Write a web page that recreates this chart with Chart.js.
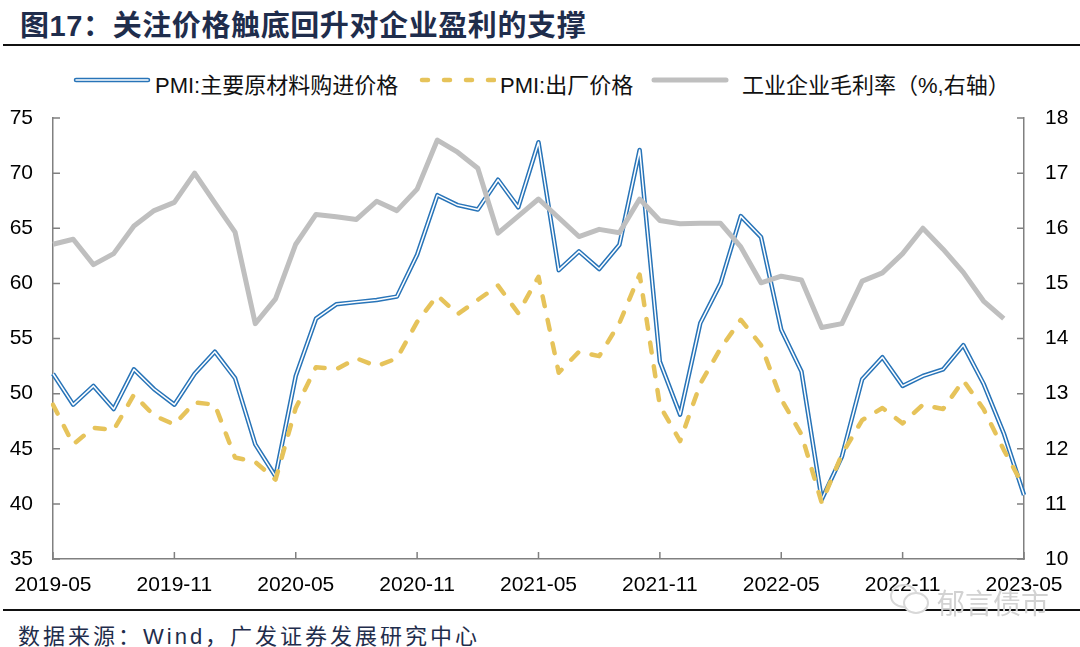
<!DOCTYPE html>
<html>
<head>
<meta charset="utf-8">
<script src="https://cdn.jsdelivr.net/npm/chart.js@4.4.1/dist/chart.umd.min.js"></script>
<style>
  body { margin: 0; background: #fff; }
  #page { position: relative; width: 1080px; height: 647px; overflow: hidden; background: #fff;
          font-family: "Liberation Sans", Arial, "Noto Sans CJK SC", sans-serif; }
  #title { position: absolute; left: 20px; top: 2px; font-size: 29px; letter-spacing: 0.6px; font-weight: bold; color: #1f2d4c; white-space: nowrap; }
  .rule { position: absolute; left: 3px; right: 0; height: 2px; background: #111; }
  .lg-sample { position: absolute; top: 74px; }
  .lg-text { position: absolute; top: 67px; font-size: 22px; color: #111; white-space: nowrap; }
  #chart-box { position: absolute; left: 0; top: 100px; width: 1080px; height: 500px; }
  #source { position: absolute; left: 18px; top: 618px; font-size: 22px; letter-spacing: 3px; color: #1f2d4c; white-space: nowrap; }
  #mark { position: absolute; left: 937px; top: 582px; font-size: 28px; color: #d2d2d2; white-space: nowrap; }
  #mark-icon { position: absolute; left: 888px; top: 582px; }
</style>
</head>
<body>
<div id="page">
  <div id="title">图17：关注价格触底回升对企业盈利的支撑</div>
  <div class="rule" style="top:44px"></div>

  <svg class="lg-sample" style="left:73px" width="78" height="12">
    <line x1="3" y1="6" x2="75" y2="6" stroke="#2874b8" stroke-width="4.5" stroke-linecap="round"/>
    <line x1="3" y1="6" x2="75" y2="6" stroke="#fff" stroke-width="1.5" stroke-linecap="round"/>
  </svg>
  <div class="lg-text" style="left:155px">PMI:主要原材料购进价格</div>
  <svg class="lg-sample" style="left:418px" width="78" height="12">
    <line x1="4" y1="6" x2="76" y2="6" stroke="#e6c35a" stroke-width="4.5" stroke-linecap="round" stroke-dasharray="6 16"/>
  </svg>
  <div class="lg-text" style="left:500px">PMI:出厂价格</div>
  <svg class="lg-sample" style="left:651px" width="78" height="12">
    <line x1="3" y1="6" x2="75" y2="6" stroke="#bfbfbf" stroke-width="5" stroke-linecap="round"/>
  </svg>
  <div class="lg-text" style="left:742px">工业企业毛利率（%,右轴）</div>

  <div id="chart-box"><canvas id="chart" width="1080" height="500"></canvas></div>

  <div class="rule" style="top:609px"></div>
  <div id="source">数据来源：Wind，广发证券发展研究中心</div>
  <svg id="mark-icon" width="44" height="36">
    <ellipse cx="16" cy="14" rx="13" ry="11" fill="none" stroke="#d8d8d8" stroke-width="2"/>
    <ellipse cx="28" cy="21" rx="12" ry="10" fill="#fff" stroke="#d8d8d8" stroke-width="2"/>
  </svg>
  <div id="mark">郁言债市</div>
</div>

<script>
// 月份
const months = [
  '2019-05','2019-06','2019-07','2019-08','2019-09','2019-10','2019-11','2019-12',
  '2020-01','2020-02','2020-03','2020-04','2020-05','2020-06','2020-07','2020-08','2020-09','2020-10','2020-11','2020-12',
  '2021-01','2021-02','2021-03','2021-04','2021-05','2021-06','2021-07','2021-08','2021-09','2021-10','2021-11','2021-12',
  '2022-01','2022-02','2022-03','2022-04','2022-05','2022-06','2022-07','2022-08','2022-09','2022-10','2022-11','2022-12',
  '2023-01','2023-02','2023-03','2023-04','2023-05'
];
const xTickLabels = ['2019-05','2019-11','2020-05','2020-11','2021-05','2021-11','2022-05','2022-11','2023-05'];

// PMI:主要原材料购进价格 (左轴)
const purchasePrice = [
  51.8, 49.0, 50.7, 48.6, 52.2, 50.4, 49.0, 51.8,
  53.8, 51.4, 45.4, 42.5, 51.6, 56.8, 58.1, 58.3, 58.5, 58.8, 62.6, 68.0,
  67.1, 66.7, 69.4, 66.9, 72.8, 61.2, 62.9, 61.3, 63.5, 72.1, 52.9, 48.1,
  56.4, 60.0, 66.1, 64.2, 55.8, 52.0, 40.4, 44.3, 51.3, 53.3, 50.7, 51.6,
  52.2, 54.4, 50.9, 46.4, 40.8
];
// PMI:出厂价格 (左轴)
const factoryPrice = [
  49.0, 45.4, 46.9, 46.7, 49.9, 48.0, 47.2, 49.2,
  49.0, 44.2, 43.8, 42.2, 48.7, 52.4, 52.2, 53.2, 52.5, 53.2, 56.5, 58.9,
  57.2, 58.5, 59.8, 57.3, 60.6, 51.9, 53.8, 53.4, 56.4, 60.8, 48.9, 45.7,
  50.9, 54.1, 56.7, 54.4, 49.5, 46.3, 40.1, 44.5, 47.6, 48.7, 47.3, 49.0,
  48.6, 51.2, 48.6, 44.9, 41.5
];
// 工业企业毛利率 % (右轴)
const grossMargin = [
  15.71, 15.80, 15.34, 15.54, 16.04, 16.32, 16.47, 17.00,
  16.46, 15.93, 14.27, 14.72, 15.71, 16.25, 16.21, 16.16, 16.49, 16.32, 16.71, 17.60,
  17.38, 17.09, 15.91, 16.22, 16.53, 16.19, 15.85, 15.98, 15.92, 16.53, 16.14, 16.08,
  16.09, 16.09, 15.66, 15.01, 15.13, 15.06, 14.20, 14.27, 15.04, 15.19, 15.54, 16.00,
  15.62, 15.20, 14.68, 14.36, null
];

Chart.defaults.font.family = '"Liberation Sans", Arial, sans-serif';
Chart.defaults.color = '#000';

// 刻度线朝里画
const innerTicks = {
  id: 'innerTicks',
  beforeDatasetsDraw(chart) {
    const { ctx, chartArea: a, scales } = chart;
    const len = 7;
    ctx.save();
    ctx.strokeStyle = '#808080';
    ctx.lineWidth = 1.5;
    ctx.beginPath();
    xTickLabels.forEach(l => {
      const x = scales.x.getPixelForValue(months.indexOf(l));
      ctx.moveTo(x, a.bottom);
      ctx.lineTo(x, a.bottom - len);
    });
    scales.y.ticks.forEach(t => {
      const y = scales.y.getPixelForValue(t.value);
      ctx.moveTo(a.left, y);
      ctx.lineTo(a.left + len, y);
    });
    scales.y1.ticks.forEach(t => {
      const y = scales.y1.getPixelForValue(t.value);
      ctx.moveTo(a.right, y);
      ctx.lineTo(a.right - len, y);
    });
    ctx.stroke();
    ctx.restore();
  }
};

const axisBorder = { display: true, color: '#808080', width: 1.5 };

new Chart(document.getElementById('chart'), {
  type: 'line',
  data: {
    labels: months,
    datasets: [
      {
        label: '工业企业毛利率（%,右轴）',
        data: grossMargin,
        yAxisID: 'y1',
        borderColor: '#bfbfbf',
        borderWidth: 5,
        borderJoinStyle: 'round',
        pointRadius: 0,
        order: 0
      },
      {
        label: 'PMI:出厂价格',
        data: factoryPrice,
        yAxisID: 'y',
        borderColor: '#e6c35a',
        borderWidth: 4.5,
        borderDash: [10, 14],
        borderCapStyle: 'round',
        borderJoinStyle: 'round',
        pointRadius: 0,
        order: 1
      },
      {
        // 双线效果的白色内线
        label: 'inner',
        data: purchasePrice,
        yAxisID: 'y',
        borderColor: '#ffffff',
        borderWidth: 1.5,
        borderJoinStyle: 'round',
        pointRadius: 0,
        order: 2
      },
      {
        label: 'PMI:主要原材料购进价格',
        data: purchasePrice,
        yAxisID: 'y',
        borderColor: '#2874b8',
        borderWidth: 4.5,
        borderJoinStyle: 'round',
        pointRadius: 0,
        order: 3
      }
    ]
  },
  options: {
    responsive: false,
    animation: false,
    devicePixelRatio: 1,
    layout: { padding: { top: 18, left: 0, right: 0, bottom: 0 } },
    plugins: {
      legend: { display: false },
      tooltip: { enabled: false }
    },
    scales: {
      x: {
        type: 'category',
        offset: false,
        grid: { display: false, drawTicks: false },
        border: axisBorder,
        ticks: {
          autoSkip: false,
          maxRotation: 0,
          padding: 14,
          font: { size: 21 },
          callback: function(val, idx) {
            const l = months[idx];
            return xTickLabels.includes(l) ? l : '';
          }
        },
        afterFit: function(scale) { scale.height = 41; }
      },
      y: {
        position: 'left',
        min: 35,
        max: 75,
        grid: { display: false, drawTicks: false },
        border: axisBorder,
        ticks: { stepSize: 5, padding: 20, font: { size: 21 } },
        afterFit: function(scale) { scale.width = 53; scale.paddingTop = 0; scale.paddingBottom = 0; }
      },
      y1: {
        position: 'right',
        min: 10,
        max: 18,
        grid: { display: false, drawTicks: false },
        border: axisBorder,
        ticks: { stepSize: 1, padding: 21, font: { size: 21 } },
        afterFit: function(scale) { scale.width = 56; scale.paddingTop = 0; scale.paddingBottom = 0; }
      }
    }
  },
  plugins: [innerTicks]
});
</script>
</body>
</html>
